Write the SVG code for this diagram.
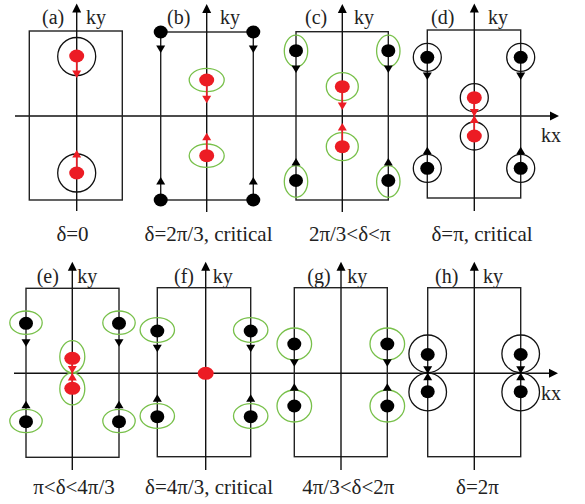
<svg xmlns="http://www.w3.org/2000/svg" xmlns:xlink="http://www.w3.org/1999/xlink" width="585" height="504" viewBox="0 0 585 504">
<style>
.frame{fill:none;stroke:#222;stroke-width:1.4}
.axis{fill:none;stroke:#111;stroke-width:1.4}
.ring{fill:none;stroke:#111;stroke-width:1.3}
.gring{fill:none;stroke:#78c04a;stroke-width:1.3}
.bdot{fill:#000}
.rdot{fill:#ec1c24}
.rline{stroke:#ec1c24;stroke-width:1.6;fill:none}
.rfill{fill:#ec1c24}
.bfill{fill:#000}
text{font-family:"Liberation Serif","Times New Roman",serif;fill:#222}
.lbl{font-size:20px}
.cap{font-size:21px;text-anchor:middle}
</style>
<defs>
<path id="ad" d="M-4.5,-7.5 L4.5,-7.5 L0,0 Z"/>
<path id="au" d="M-4.5,7.5 L4.5,7.5 L0,0 Z"/>
<path id="axu" d="M-4.5,9 L4.5,9 L0,0 Z"/>
<path id="axr" d="M-9,-4.5 L-9,4.5 L0,0 Z"/>
</defs>

<!-- global horizontal axes -->
<g id="kx-axes">
<line class="axis" x1="15" y1="116" x2="552" y2="116"/>
<use href="#axr" xlink:href="#axr" x="559" y="116" class="bfill"/>
<text class="lbl" x="541" y="142">kx</text>
<line class="axis" x1="14" y1="373.3" x2="551" y2="373.3"/>
<use href="#axr" xlink:href="#axr" x="558" y="373.3" class="bfill"/>
<text class="lbl" x="541" y="400">kx</text>
</g>

<!-- Panel a -->
<g id="panel-a">
<rect class="frame" x="29.3" y="31" width="93" height="169"/>
<line class="axis" x1="76.7" y1="211" x2="76.7" y2="11"/>
<use href="#axu" xlink:href="#axu" x="76.7" y="3.5" class="bfill"/>
<text class="lbl" x="42" y="24">(a)</text>
<text class="lbl" x="86" y="24">ky</text>
<text class="cap" x="72.5" y="241">δ=0</text>
<g id="a-n1"><circle class="ring" cx="76.7" cy="56.5" r="19"/><ellipse class="rdot" cx="76.7" cy="56" rx="7.5" ry="6.5"/></g>
<g id="a-n2"><circle class="ring" cx="76.7" cy="173" r="19"/><ellipse class="rdot" cx="76.7" cy="173" rx="7.5" ry="6.5"/></g>
</g>

<!-- Panel b -->
<g id="panel-b">
<rect class="frame" x="160.7" y="32" width="92.6" height="168"/>
<line class="axis" x1="206.7" y1="212" x2="206.7" y2="12"/>
<use href="#axu" xlink:href="#axu" x="206.7" y="4" class="bfill"/>
<text class="lbl" x="167" y="24">(b)</text>
<text class="lbl" x="220" y="24">ky</text>
<text class="cap" x="208.5" y="241">δ=2π/3, critical</text>
<g id="b-n1"><ellipse class="bdot" cx="160.7" cy="32" rx="7" ry="6.5"/></g>
<g id="b-n2"><ellipse class="bdot" cx="253.3" cy="32" rx="7" ry="6.5"/></g>
<g id="b-n3"><ellipse class="bdot" cx="160.7" cy="200" rx="7" ry="6.5"/></g>
<g id="b-n4"><ellipse class="bdot" cx="253.3" cy="200" rx="7" ry="6.5"/></g>
<g id="b-n5"><ellipse class="gring" cx="206.7" cy="80" rx="17.5" ry="11.7"/><ellipse class="rdot" cx="206.7" cy="80" rx="7.5" ry="6.5"/></g>
<g id="b-n6"><ellipse class="gring" cx="206.7" cy="155.7" rx="17.5" ry="11.7"/><ellipse class="rdot" cx="206.7" cy="155.7" rx="7.5" ry="6.5"/></g>
</g>

<!-- Panel c -->
<g id="panel-c">
<rect class="frame" x="296" y="31.7" width="92.3" height="168.3"/>
<line class="axis" x1="342.3" y1="212" x2="342.3" y2="12"/>
<use href="#axu" xlink:href="#axu" x="342.3" y="4" class="bfill"/>
<text class="lbl" x="305" y="24">(c)</text>
<text class="lbl" x="354" y="24">ky</text>
<text class="cap" x="349.7" y="241">2π/3&lt;δ&lt;π</text>
<g id="c-n1"><ellipse class="gring" cx="296" cy="51" rx="11.7" ry="15.8"/><ellipse class="bdot" cx="296" cy="50.7" rx="7" ry="6.5"/></g>
<g id="c-n2"><ellipse class="gring" cx="388.3" cy="51" rx="11.7" ry="15.8"/><ellipse class="bdot" cx="388.3" cy="50.7" rx="7" ry="6.5"/></g>
<g id="c-n3"><ellipse class="gring" cx="296" cy="181.5" rx="11.7" ry="15.8"/><ellipse class="bdot" cx="296" cy="180.5" rx="7" ry="6.5"/></g>
<g id="c-n4"><ellipse class="gring" cx="388.3" cy="181.5" rx="11.7" ry="15.8"/><ellipse class="bdot" cx="388.3" cy="180.5" rx="7" ry="6.5"/></g>
<g id="c-n5"><ellipse class="gring" cx="342.3" cy="86.7" rx="16" ry="14"/><ellipse class="rdot" cx="342.3" cy="86.7" rx="7.5" ry="6.5"/></g>
<g id="c-n6"><ellipse class="gring" cx="342.3" cy="146.7" rx="16" ry="14"/><ellipse class="rdot" cx="342.3" cy="146.7" rx="7.5" ry="6.5"/></g>
</g>

<!-- Panel d -->
<g id="panel-d">
<rect class="frame" x="427.3" y="30" width="93.4" height="168"/>
<line class="axis" x1="474.3" y1="211" x2="474.3" y2="12"/>
<use href="#axu" xlink:href="#axu" x="474.3" y="3.5" class="bfill"/>
<text class="lbl" x="431" y="24">(d)</text>
<text class="lbl" x="488" y="24">ky</text>
<text class="cap" x="482" y="241">δ=π, critical</text>
<g id="d-n1"><circle class="ring" cx="427.3" cy="57.3" r="14"/><ellipse class="bdot" cx="427.3" cy="57.3" rx="7" ry="6.5"/></g>
<g id="d-n2"><circle class="ring" cx="520.7" cy="57.3" r="14"/><ellipse class="bdot" cx="520.7" cy="57.3" rx="7" ry="6.5"/></g>
<g id="d-n3"><circle class="ring" cx="427.3" cy="168.3" r="14"/><ellipse class="bdot" cx="427.3" cy="168.3" rx="7" ry="6.5"/></g>
<g id="d-n4"><circle class="ring" cx="520.7" cy="168.3" r="14"/><ellipse class="bdot" cx="520.7" cy="168.3" rx="7" ry="6.5"/></g>
<g id="d-n5"><circle class="ring" cx="474.3" cy="97.7" r="14"/><ellipse class="rdot" cx="474.3" cy="97.7" rx="7.5" ry="6.5"/></g>
<g id="d-n6"><circle class="ring" cx="474.3" cy="136" r="14"/><ellipse class="rdot" cx="474.3" cy="136" rx="7.5" ry="6.5"/></g>
</g>

<!-- Panel e -->
<g id="panel-e">
<rect class="frame" x="26" y="288.3" width="93" height="169"/>
<line class="axis" x1="72.3" y1="470" x2="72.3" y2="270"/>
<use href="#axu" xlink:href="#axu" x="72.3" y="261.7" class="bfill"/>
<text class="lbl" x="36.7" y="283">(e)</text>
<text class="lbl" x="77.3" y="283">ky</text>
<text class="cap" x="74" y="494">π&lt;δ&lt;4π/3</text>
<g id="e-n1"><ellipse class="gring" cx="26" cy="322.7" rx="16.2" ry="11.7"/><ellipse class="bdot" cx="26" cy="323.3" rx="7" ry="6.5"/></g>
<g id="e-n2"><ellipse class="gring" cx="119" cy="322.7" rx="16.2" ry="11.7"/><ellipse class="bdot" cx="119" cy="323.3" rx="7" ry="6.5"/></g>
<g id="e-n3"><ellipse class="gring" cx="26" cy="421" rx="16.2" ry="11.7"/><ellipse class="bdot" cx="26" cy="421.7" rx="7" ry="6.5"/></g>
<g id="e-n4"><ellipse class="gring" cx="119" cy="421" rx="16.2" ry="11.7"/><ellipse class="bdot" cx="119" cy="421.7" rx="7" ry="6.5"/></g>
<g id="e-n5"><ellipse class="gring" cx="72.3" cy="356.7" rx="12.5" ry="16"/><ellipse class="rdot" cx="72.3" cy="358.3" rx="8" ry="6.5"/></g>
<g id="e-n6"><ellipse class="gring" cx="72.3" cy="388.8" rx="12.5" ry="16"/><ellipse class="rdot" cx="72.3" cy="388.3" rx="8" ry="6.5"/></g>
</g>

<!-- Panel f -->
<g id="panel-f">
<rect class="frame" x="157.3" y="287.7" width="93.4" height="169"/>
<line class="axis" x1="205.7" y1="470" x2="205.7" y2="270"/>
<use href="#axu" xlink:href="#axu" x="205.7" y="261.7" class="bfill"/>
<text class="lbl" x="174" y="283">(f)</text>
<text class="lbl" x="212.7" y="283">ky</text>
<text class="cap" x="209" y="494">δ=4π/3, critical</text>
<g id="f-n1"><ellipse class="gring" cx="157.3" cy="330" rx="17.2" ry="12.3"/><ellipse class="bdot" cx="157.3" cy="331" rx="7" ry="6.5"/></g>
<g id="f-n2"><ellipse class="gring" cx="250.7" cy="330" rx="17.2" ry="12.3"/><ellipse class="bdot" cx="250.7" cy="331" rx="7" ry="6.5"/></g>
<g id="f-n3"><ellipse class="gring" cx="157.3" cy="416" rx="17.2" ry="12.3"/><ellipse class="bdot" cx="157.3" cy="416.7" rx="7" ry="6.5"/></g>
<g id="f-n4"><ellipse class="gring" cx="250.7" cy="416" rx="17.2" ry="12.3"/><ellipse class="bdot" cx="250.7" cy="416.7" rx="7" ry="6.5"/></g>
<g id="f-n5"><ellipse class="rdot" cx="205.7" cy="373.3" rx="8" ry="6.5"/></g>
</g>

<!-- Panel g -->
<g id="panel-g">
<rect class="frame" x="294.3" y="287.7" width="93" height="169"/>
<line class="axis" x1="341" y1="470" x2="341" y2="270"/>
<use href="#axu" xlink:href="#axu" x="341" y="261.7" class="bfill"/>
<text class="lbl" x="307.3" y="283">(g)</text>
<text class="lbl" x="347.3" y="283">ky</text>
<text class="cap" x="348.3" y="494">4π/3&lt;δ&lt;2π</text>
<g id="g-n1"><ellipse class="gring" cx="294.3" cy="344" rx="17.3" ry="16"/><ellipse class="bdot" cx="294.3" cy="344" rx="7" ry="6.5"/></g>
<g id="g-n2"><ellipse class="gring" cx="387.3" cy="344" rx="17.3" ry="16"/><ellipse class="bdot" cx="387.3" cy="344" rx="7" ry="6.5"/></g>
<g id="g-n3"><ellipse class="gring" cx="294.3" cy="406" rx="17.3" ry="16"/><ellipse class="bdot" cx="294.3" cy="406" rx="7" ry="6.5"/></g>
<g id="g-n4"><ellipse class="gring" cx="387.3" cy="406" rx="17.3" ry="16"/><ellipse class="bdot" cx="387.3" cy="406" rx="7" ry="6.5"/></g>
</g>

<!-- Panel h -->
<g id="panel-h">
<rect class="frame" x="427.7" y="287.7" width="93" height="169"/>
<line class="axis" x1="474.3" y1="470" x2="474.3" y2="270"/>
<use href="#axu" xlink:href="#axu" x="474.3" y="261.7" class="bfill"/>
<text class="lbl" x="435" y="283">(h)</text>
<text class="lbl" x="483" y="283">ky</text>
<text class="cap" x="477.5" y="494">δ=2π</text>
<g id="h-n1"><circle class="ring" cx="427.7" cy="353.8" r="18.8"/><ellipse class="bdot" cx="427.7" cy="354.5" rx="7" ry="6.5"/></g>
<g id="h-n2"><circle class="ring" cx="520.7" cy="353.8" r="18.8"/><ellipse class="bdot" cx="520.7" cy="354.5" rx="7" ry="6.5"/></g>
<g id="h-n3"><circle class="ring" cx="427.7" cy="392" r="18.8"/><ellipse class="bdot" cx="427.7" cy="391.7" rx="7" ry="6.5"/></g>
<g id="h-n4"><circle class="ring" cx="520.7" cy="392" r="18.8"/><ellipse class="bdot" cx="520.7" cy="391.7" rx="7" ry="6.5"/></g>
</g>

<!-- Connectors: flow arrows -->
<g id="connectors">
<!-- a -->
<line class="rline" x1="76.7" y1="60" x2="76.7" y2="72"/><use href="#ad" xlink:href="#ad" x="76.7" y="78" class="rfill"/>
<line class="rline" x1="76.7" y1="169" x2="76.7" y2="156"/><use href="#au" xlink:href="#au" x="76.7" y="150" class="rfill"/>
<!-- b -->
<use href="#ad" xlink:href="#ad" x="160.7" y="53" class="bfill"/>
<use href="#ad" xlink:href="#ad" x="253.3" y="53" class="bfill"/>
<use href="#au" xlink:href="#au" x="160.7" y="177" class="bfill"/>
<use href="#au" xlink:href="#au" x="253.3" y="177" class="bfill"/>
<line class="rline" x1="206.7" y1="84" x2="206.7" y2="97"/><use href="#ad" xlink:href="#ad" x="206.7" y="103.3" class="rfill"/>
<line class="rline" x1="206.7" y1="152" x2="206.7" y2="140"/><use href="#au" xlink:href="#au" x="206.7" y="132.7" class="rfill"/>
<!-- c -->
<use href="#ad" xlink:href="#ad" x="296" y="73" class="bfill"/>
<use href="#ad" xlink:href="#ad" x="388.3" y="73" class="bfill"/>
<use href="#au" xlink:href="#au" x="296" y="158" class="bfill"/>
<use href="#au" xlink:href="#au" x="388.3" y="158" class="bfill"/>
<line class="rline" x1="342.3" y1="90" x2="342.3" y2="103"/><use href="#ad" xlink:href="#ad" x="342.3" y="110" class="rfill"/>
<line class="rline" x1="342.3" y1="143" x2="342.3" y2="130"/><use href="#au" xlink:href="#au" x="342.3" y="123" class="rfill"/>
<!-- d -->
<use href="#ad" xlink:href="#ad" x="427.3" y="80" class="bfill"/>
<use href="#ad" xlink:href="#ad" x="520.7" y="80" class="bfill"/>
<use href="#au" xlink:href="#au" x="427.3" y="146.7" class="bfill"/>
<use href="#au" xlink:href="#au" x="520.7" y="146.7" class="bfill"/>
<line class="rline" x1="474.3" y1="101" x2="474.3" y2="131"/>
<use href="#ad" xlink:href="#ad" x="474.3" y="116.5" class="rfill"/>
<use href="#au" xlink:href="#au" x="474.3" y="115.5" class="rfill"/>
<!-- e -->
<use href="#ad" xlink:href="#ad" x="26" y="346.7" class="bfill"/>
<use href="#ad" xlink:href="#ad" x="119" y="346.7" class="bfill"/>
<use href="#au" xlink:href="#au" x="26" y="400.7" class="bfill"/>
<use href="#au" xlink:href="#au" x="119" y="400.7" class="bfill"/>
<line class="rline" x1="72.3" y1="362" x2="72.3" y2="385"/>
<use href="#ad" xlink:href="#ad" x="72.3" y="373.5" class="rfill"/>
<use href="#au" xlink:href="#au" x="72.3" y="373" class="rfill"/>
<!-- f -->
<use href="#ad" xlink:href="#ad" x="157.3" y="352.3" class="bfill"/>
<use href="#ad" xlink:href="#ad" x="250.7" y="352.3" class="bfill"/>
<use href="#au" xlink:href="#au" x="157.3" y="394.3" class="bfill"/>
<use href="#au" xlink:href="#au" x="250.7" y="394.3" class="bfill"/>
<!-- g -->
<use href="#ad" xlink:href="#ad" x="294.3" y="366.7" class="bfill"/>
<use href="#ad" xlink:href="#ad" x="387.3" y="366.7" class="bfill"/>
<use href="#au" xlink:href="#au" x="294.3" y="383.3" class="bfill"/>
<use href="#au" xlink:href="#au" x="387.3" y="383.3" class="bfill"/>
<!-- h -->
<use href="#ad" xlink:href="#ad" x="427.7" y="373.8" class="bfill"/>
<use href="#au" xlink:href="#au" x="427.7" y="372.8" class="bfill"/>
<use href="#ad" xlink:href="#ad" x="520.7" y="373.8" class="bfill"/>
<use href="#au" xlink:href="#au" x="520.7" y="372.8" class="bfill"/>
</g>
</svg>
